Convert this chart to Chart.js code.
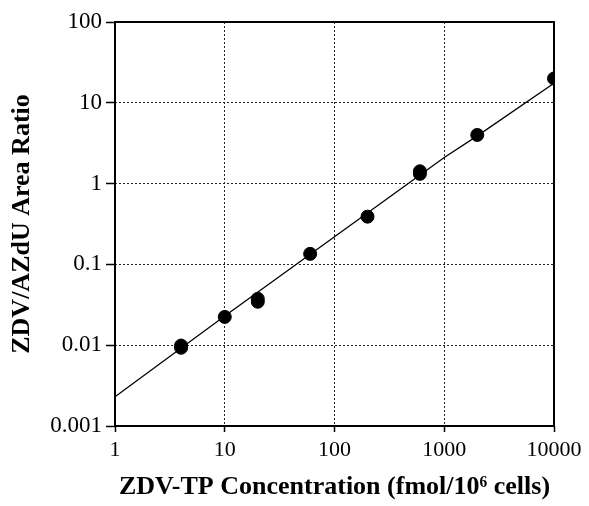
<!DOCTYPE html>
<html>
<head>
<meta charset="utf-8">
<script src="https://cdn.jsdelivr.net/npm/chart.js@4/dist/chart.umd.min.js"></script>
<style>
  html, body { margin: 0; padding: 0; background: #fff; }
  canvas { display: block; }
</style>
</head>
<body>
<canvas id="ratioChart" width="589" height="506"></canvas>
<script>
/* measured points (fmol/10^6 cells vs. area ratio) */
const concentration = [4, 4, 10, 20, 20, 60, 200, 600, 600, 2000, 10000];
const ratio = [0.0093, 0.0099, 0.0224, 0.0345, 0.0375, 0.135, 0.39, 1.32, 1.42, 4.0, 20];

/* fitted calibration line */
const fitX = [1, 10, 100, 1000, 2000, 10000];
const fitY = [0.0023, 0.023, 0.22, 2.1, 3.9, 17.5];

const xTicks = [1, 10, 100, 1000, 10000];
const xTickLabels = ['1', '10', '100', '1000', '10000'];
const yTicks = [0.001, 0.01, 0.1, 1, 10, 100];
const yTickLabels = ['0.001', '0.01', '0.1', '1', '10', '100'];

const serif = "'Liberation Serif', 'Times New Roman', serif";

// solid frame round the plot area
const framePlugin = {
  id: 'frame',
  afterDatasetsDraw(chart) {
    const { ctx, chartArea: a } = chart;
    ctx.save();
    ctx.strokeStyle = '#000';
    ctx.lineWidth = 2;
    ctx.setLineDash([]);
    ctx.strokeRect(a.left, a.top, a.right - a.left, a.bottom - a.top);
    ctx.restore();
  }
};

new Chart(document.getElementById('ratioChart'), {
  type: 'scatter',
  data: {
    datasets: [{
      type: 'line',
      data: fitX.map((x, i) => ({ x: x, y: fitY[i] })),
      borderColor: '#000',
      borderWidth: 1.3,
      pointRadius: 0,
      tension: 0
    }, {
      data: concentration.map((x, i) => ({ x: x, y: ratio[i] })),
      backgroundColor: '#000',
      borderColor: '#000',
      pointRadius: 6.5,
      pointHoverRadius: 6.5
    }]
  },
  options: {
    responsive: false,
    animation: false,
    layout: { padding: { top: 22, right: 35, left: 0, bottom: 0 }},
    plugins: { legend: { display: false }, tooltip: { enabled: false }},
    scales: {
      x: {
        type: 'logarithmic',
        min: 1,
        max: 10000,
        afterBuildTicks: s => { s.ticks = xTicks.map(v => ({ value: v })); },
        afterFit: s => { s.height = 80; },
        ticks: {
          autoSkip: false,
          maxRotation: 0,
          color: '#000',
          padding: 5,
          font: { family: serif, size: 22 },
          callback: (v, i) => xTickLabels[i]
        },
        grid: { color: '#222', lineWidth: 1, tickLength: 6, tickColor: '#000', tickWidth: 1.5 },
        border: { display: false, dash: [2, 2] },
        title: {
          display: true,
          text: 'ZDV-TP Concentration (fmol/10\u2076 cells)',
          color: '#000',
          font: { family: serif, size: 26, weight: 'bold' },
          padding: { top: 6, bottom: 3 }
        }
      },
      y: {
        type: 'logarithmic',
        min: 0.001,
        max: 100,
        afterBuildTicks: s => { s.ticks = yTicks.map(v => ({ value: v })); },
        afterFit: s => { s.width = 115; },
        ticks: {
          autoSkip: false,
          color: '#000',
          padding: 4,
          font: { family: serif, size: 23 },
          callback: (v, i) => yTickLabels[i]
        },
        grid: { color: '#222', lineWidth: 1, tickLength: 9, tickColor: '#000', tickWidth: 1.5 },
        border: { display: false, dash: [2, 2] },
        title: {
          display: true,
          text: 'ZDV/AZdU Area Ratio',
          color: '#000',
          font: { family: serif, size: 26, weight: 'bold' },
          padding: { top: 7, bottom: 7 }
        }
      }
    }
  },
  plugins: [framePlugin]
});
</script>
</body>
</html>
